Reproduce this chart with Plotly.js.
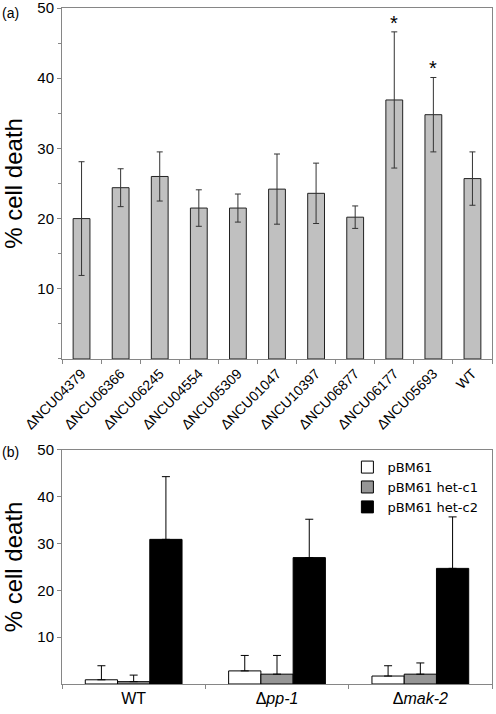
<!DOCTYPE html>
<html>
<head>
<meta charset="utf-8">
<script src="https://cdn.plot.ly/plotly-3.0.1.min.js"></script>
<style>html,body{margin:0;padding:0;background:#fff;}#chart{width:496px;height:714px;}</style>
</head>
<body>
<div id="chart"></div>
<script>
// Panel (a)
const strainsA = ['ΔNCU04379','ΔNCU06366','ΔNCU06245','ΔNCU04554','ΔNCU05309','ΔNCU01047','ΔNCU10397','ΔNCU06877','ΔNCU06177','ΔNCU05693','WT'];
const deathA   = [20.0, 24.4, 26.0, 21.5, 21.5, 24.2, 23.6, 20.2, 36.9, 34.8, 25.7];
const errA     = [8.1, 2.7, 3.5, 2.6, 2.0, 5.0, 4.3, 1.6, 9.7, 5.3, 3.8];
const signifA  = [false,false,false,false,false,false,false,false,true,true,false];

// Panel (b)
const strainsB = ['WT','Δ<i>pp-1</i>','Δ<i>mak-2</i>'];
const seriesB  = ['pBM61','pBM61 het-c1','pBM61 het-c2'];
const pBM61    = [0.9, 2.8, 1.7];
const pBM61Err = [3.0, 3.3, 2.2];
const hetC1    = [0.5, 2.1, 2.1];
const hetC1Err = [1.4, 4.0, 2.4];
const hetC2    = [30.9, 27.0, 24.7];
const hetC2Err = [13.4, 8.2, 11.0];

const colorsB = ['#ffffff','#969696','#000000'];
const valsB = [pBM61, hetC1, hetC2];
const errsB = [pBM61Err, hetC1Err, hetC2Err];

const traces = [];
traces.push({
  type:'bar', x: strainsA, y: deathA, xaxis:'x', yaxis:'y', width:0.43,
  marker:{color:'#c0c0c0', line:{color:'#222222', width:1}},
  error_y:{type:'data', array: errA, visible:true, color:'#333333', thickness:1, width:3},
  showlegend:false, hoverinfo:'x+y'
});
seriesB.forEach((name,i)=>{
  traces.push({
    type:'bar', name:name, x: strainsB, y: valsB[i], xaxis:'x2', yaxis:'y2',
    marker:{color:colorsB[i], line:{color:'#000000', width:1}},
    error_y:{type:'data', symmetric:false, array: errsB[i], arrayminus: errsB[i].map(()=>0), visible:true, color:'#000000', thickness:1, width:4}
  });
});

const annotations = [];
strainsA.forEach((s,i)=>{
  if(signifA[i]) annotations.push({x:s, y:deathA[i]+errA[i], xref:'x', yref:'y', text:'*', showarrow:false,
    yanchor:'bottom', yshift:-4, font:{family:'Liberation Sans, Arial', size:20, color:'#000'}});
});
annotations.push({xref:'paper', yref:'paper', x:-0.144, y:0.9926, xanchor:'left', yanchor:'middle', text:'(a)', showarrow:false,
  font:{family:'Liberation Sans, Arial', size:14, color:'#000'}});
annotations.push({xref:'paper', yref:'paper', x:-0.144, y:0.3432, xanchor:'left', yanchor:'middle', text:'(b)', showarrow:false,
  font:{family:'Liberation Sans, Arial', size:14, color:'#000'}});

const axisLine = '#868686';
const yCommon = {
  range:[0,50], tickvals:[10,20,30,40,50], ticks:'outside', ticklen:4, tickcolor:axisLine,
  showline:true, linecolor:axisLine, linewidth:1, mirror:true, showgrid:false, zeroline:false,
  ticklabeloverflow:'allow',
  tickfont:{family:'Liberation Sans, Arial', size:15, color:'#000'},
  title:{text:'% cell death', font:{family:'Liberation Sans, Arial', size:24, color:'#000'}, standoff:13},
  fixedrange:true
};

const layout = {
  width:496, height:714,
  margin:{l:62, r:4, t:8, b:30},
  paper_bgcolor:'#fff', plot_bgcolor:'#fff',
  barmode:'group', bargap:0.325, bargroupgap:0,
  font:{family:'Liberation Sans, Arial', color:'#000'},
  xaxis:{domain:[0,1], anchor:'y', type:'category', tickson:'boundaries', ticks:'outside', ticklen:4, tickcolor:axisLine,
    showline:true, linecolor:axisLine, mirror:true, tickangle:-45,
    tickfont:{family:'Liberation Sans, Arial', size:14, color:'#000'}, fixedrange:true},
  yaxis:Object.assign({}, yCommon, {domain:[0.4808,1], anchor:'x',
    minor:{dtick:5, ticks:'outside', ticklen:3, tickcolor:axisLine, showgrid:false}}),
  xaxis2:{domain:[0,1], anchor:'y2', type:'category', tickson:'boundaries', ticks:'outside', ticklen:4, tickcolor:axisLine,
    showline:true, linecolor:axisLine, mirror:true,
    tickfont:{family:'Liberation Sans, Arial', size:16, color:'#000'}, fixedrange:true},
  yaxis2:Object.assign({}, yCommon, {domain:[0,0.3462], anchor:'x2'}),
  legend:{x:0.98, y:0.343, xanchor:'right', yanchor:'top', bgcolor:'rgba(0,0,0,0)', borderwidth:0,
    font:{family:'DejaVu Sans, Verdana', size:13, color:'#000'}, itemwidth:30},
  annotations: annotations,
  showlegend:true
};

Plotly.newPlot('chart', traces, layout, {displayModeBar:false, staticPlot:true});
</script>
</body>
</html>
